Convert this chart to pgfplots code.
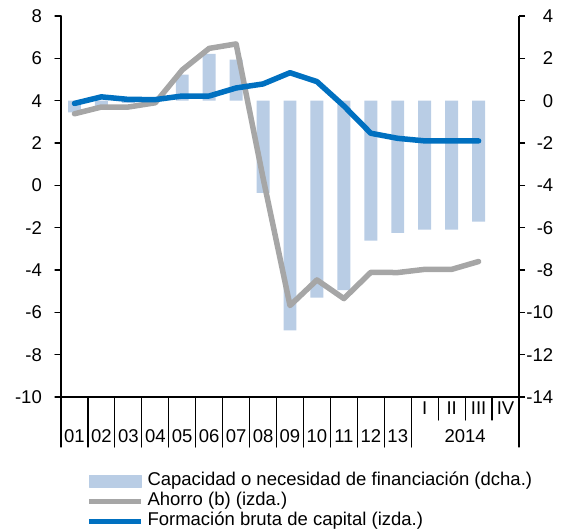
\documentclass[border=0pt]{standalone}
\usepackage{fontspec}
\setmainfont{Liberation Sans}
\usepackage{pgfplots}
\pgfplotsset{compat=1.18}
\definecolor{barblue}{RGB}{185,205,229}
\definecolor{lgray}{RGB}{166,166,166}
\definecolor{dblue}{RGB}{0,112,192}
\newcommand{\fs}{\fontsize{18.5bp}{20bp}\selectfont}
\tikzset{xlab/.style={font=\fs, inner sep=0pt, anchor=center}}
\pgfplotsset{
  lineleg/.style={legend image code/.code={\draw[##1] (0bp,0bp) -- (52bp,0bp);}},
  barleg/.style={legend image code/.code={\fill[barblue] (0bp,-6bp) rectangle (52bp,6bp);}},
}
\begin{document}
\begin{tikzpicture}
\useasboundingbox (-61bp,-133bp) rectangle (501bp,397bp);
\pgfplotsset{
 every axis/.append style={
  scale only axis, width=458bp, height=381bp, at={(0,0)}, anchor=south west,
  xmin=-0.5, xmax=16.5, clip=false,
  axis line style={line width=1.2bp, black},
  major tick length=6bp, tick align=outside,
  tick style={line width=1.2bp, black},
  /pgf/number format/assume math mode=true,
  ticklabel style={font=\fs},
 }
}
% right axis: bars
\begin{axis}[
  axis y line*=right, axis x line=none,
  ymin=-14, ymax=4, ytick={-14,-12,...,4},
  yticklabel style={anchor=west, text width=30bp, align=right, inner sep=0pt, xshift=-2bp},
]
\addplot[ybar, bar width=0.48, fill=barblue, draw=none] coordinates {
(0,-0.55) (1,-0.25) (2,-0.1) (3,0.02) (4,1.23) (5,2.21) (6,1.94) (7,-4.36)
(8,-10.85) (9,-9.3) (10,-8.95) (11,-6.61) (12,-6.25) (13,-6.09) (14,-6.09) (15,-5.72)
};
\end{axis}
\begin{axis}[
  axis y line*=left, axis x line*=bottom,
  ymin=-10, ymax=8, ytick={-10,-8,...,8}, xtick=\empty,
  yticklabel style={anchor=east, inner sep=0pt, xshift=-13bp},
  legend style={at={(axis description cs:0.0546,-0.195)}, anchor=north west,
    draw=none, fill=none, inner sep=0pt, outer sep=0pt,
    font=\fs,
    cells={anchor=west},
    nodes={inner sep=0pt, text height=14bp, text depth=6bp},
    column sep=4bp},
  line cap=round, line join=round,
]
\addlegendimage{barleg}
\addlegendentry{Capacidad o necesidad de financiación (dcha.)}
\addplot[lgray, line width=5.5bp, lineleg] coordinates {
(0,3.38) (1,3.7) (2,3.7) (3,3.9) (4,5.45) (5,6.47) (6,6.68) (7,0.35)
(8,-5.68) (9,-4.47) (10,-5.35) (11,-4.11) (12,-4.12) (13,-3.97) (14,-3.97) (15,-3.6)
};
\addlegendentry{Ahorro (b) (izda.)}
\addplot[dblue, line width=5.5bp, lineleg] coordinates {
(0,3.87) (1,4.18) (2,4.06) (3,4.05) (4,4.22) (5,4.22) (6,4.6) (7,4.79)
(8,5.32) (9,4.9) (10,3.75) (11,2.46) (12,2.22) (13,2.1) (14,2.1) (15,2.1)
};
\addlegendentry{Formación bruta de capital (izda.)}
% separators
\pgfplotsinvokeforeach{-0.5,0.5,1.5,2.5,3.5,4.5,5.5,6.5,7.5,8.5,9.5,10.5,11.5,12.5,16.5}{
  \draw[line width=1.2bp] (axis cs:#1,-10) -- ++(0bp,-50bp);}
\pgfplotsinvokeforeach{13.5,14.5,15.5}{
  \draw[line width=1.2bp] (axis cs:#1,-10) -- ++(0bp,-23bp);}
\node[xlab, yshift=-39bp] at (axis cs:0,-10) {01};
\node[xlab, yshift=-39bp] at (axis cs:1,-10) {02};
\node[xlab, yshift=-39bp] at (axis cs:2,-10) {03};
\node[xlab, yshift=-39bp] at (axis cs:3,-10) {04};
\node[xlab, yshift=-39bp] at (axis cs:4,-10) {05};
\node[xlab, yshift=-39bp] at (axis cs:5,-10) {06};
\node[xlab, yshift=-39bp] at (axis cs:6,-10) {07};
\node[xlab, yshift=-39bp] at (axis cs:7,-10) {08};
\node[xlab, yshift=-39bp] at (axis cs:8,-10) {09};
\node[xlab, yshift=-39bp] at (axis cs:9,-10) {10};
\node[xlab, yshift=-39bp] at (axis cs:10,-10) {11};
\node[xlab, yshift=-39bp] at (axis cs:11,-10) {12};
\node[xlab, yshift=-39bp] at (axis cs:12,-10) {13};
\node[xlab, yshift=-11bp] at (axis cs:13,-10) {I};
\node[xlab, yshift=-11bp] at (axis cs:14,-10) {II};
\node[xlab, yshift=-11bp] at (axis cs:15,-10) {III};
\node[xlab, yshift=-11bp] at (axis cs:16,-10) {IV};
\node[xlab, yshift=-39bp] at (axis cs:14.5,-10) {2014};
\end{axis}
\end{tikzpicture}
\end{document}
